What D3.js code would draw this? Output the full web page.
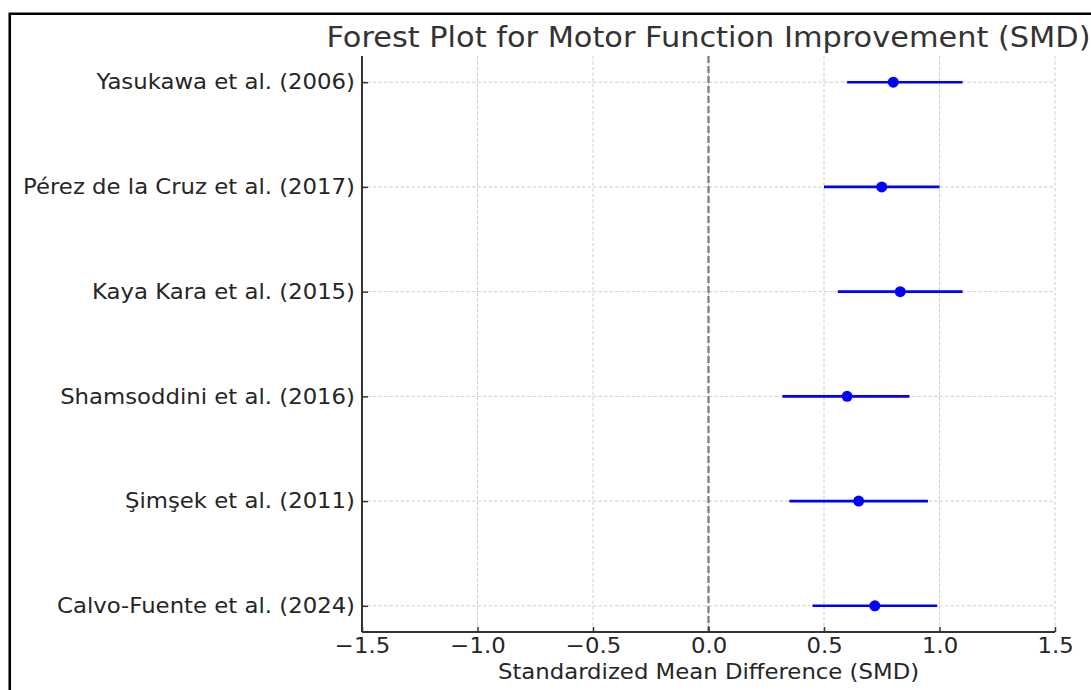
<!DOCTYPE html>
<html><head><meta charset="utf-8">
<script src="https://cdn.jsdelivr.net/npm/d3@7"></script>
<style>
html,body{margin:0;padding:0;background:#fff;}
svg{display:block;font-family:"DejaVu Sans",sans-serif;}
</style></head>
<body><svg id="c" width="1091" height="690"></svg>
<script>
const studies = ["Yasukawa et al. (2006)","Pérez de la Cruz et al. (2017)","Kaya Kara et al. (2015)","Shamsoddini et al. (2016)","Şimşek et al. (2011)","Calvo-Fuente et al. (2024)"];
const smd   = [0.80, 0.75, 0.83, 0.60, 0.65, 0.72];
const lower = [0.60, 0.50, 0.56, 0.32, 0.35, 0.45];
const upper = [1.10, 1.00, 1.10, 0.87, 0.95, 0.99];
const xTicks = [-1.5, -1.0, -0.5, 0.0, 0.5, 1.0, 1.5];
const titleText = "Forest Plot for Motor Function Improvement (SMD)";
const xLabel = "Standardized Mean Difference (SMD)";

const svg = d3.select("#c");
const L = 362, R = 1055, T = 56, B = 632;
const STRETCH = 1.085;
const x = d3.scaleLinear().domain([-1.5, 1.5]).range([L, R]);
const y = d3.scalePoint().domain(studies).range([T, B]).padding(0.25);

function stretch(sel){
  sel.each(function(){
    const w = this.getComputedTextLength();
    d3.select(this).attr("textLength", w*STRETCH).attr("lengthAdjust","spacingAndGlyphs");
  });
}

// outer frame (top + left)
svg.append("path").attr("d", `M9.75,690 V13.75 H1091`).attr("fill","none").attr("stroke","#000").attr("stroke-width",2.6);

const gridColor = "#cfcfcf";
svg.append("g").selectAll("line").data(xTicks).join("line")
  .attr("x1", d=>x(d)).attr("x2", d=>x(d)).attr("y1", T).attr("y2", B)
  .attr("stroke", gridColor).attr("stroke-width",1).attr("stroke-dasharray","3.5,2");
svg.append("g").selectAll("line").data(studies).join("line")
  .attr("x1", L).attr("x2", R).attr("y1", d=>y(d)).attr("y2", d=>y(d))
  .attr("stroke", gridColor).attr("stroke-width",1).attr("stroke-dasharray","3.5,2");

// zero line
svg.append("line").attr("x1", x(0)).attr("x2", x(0)).attr("y1", T).attr("y2", B)
  .attr("stroke","#808080").attr("stroke-width",2.3).attr("stroke-dasharray","7,3");

// error bars
const rows = studies.map((s,i)=>({s, m:smd[i], lo:lower[i], hi:upper[i]}));
svg.append("g").selectAll("line").data(rows).join("line")
  .attr("x1", d=>x(d.lo)).attr("x2", d=>x(d.hi)).attr("y1", d=>y(d.s)).attr("y2", d=>y(d.s))
  .attr("stroke","#0000ff").attr("stroke-width",2.6);
svg.append("g").selectAll("circle").data(rows).join("circle")
  .attr("cx", d=>x(d.m)).attr("cy", d=>y(d.s)).attr("r",5.5).attr("fill","#0000ff");

// axes
const axColor = "#333";
const gx = svg.append("g").attr("transform",`translate(0,${B})`)
  .call(d3.axisBottom(x).tickValues(xTicks).tickFormat(d3.format(".1f")).tickSize(-5).tickPadding(6).tickSizeOuter(0));
const gy = svg.append("g").attr("transform",`translate(${L},0)`)
  .call(d3.axisLeft(y).tickSize(-6).tickPadding(7).tickSizeOuter(0));
[gx, gy].forEach(g=>{
  g.select(".domain").attr("stroke", axColor).attr("stroke-width",2);
  g.selectAll(".tick line").attr("stroke", axColor).attr("stroke-width",1.5);
  g.selectAll(".tick text").attr("fill","#262626").attr("font-size",21).attr("font-family","DejaVu Sans").call(stretch);
});
gy.select(".domain").attr("d", `M0,${T}V${B}`);
gx.select(".domain").attr("d", `M${L},0H${R}`);

// title and label
svg.append("text").attr("x",(L+R)/2).attr("y",47).attr("text-anchor","middle")
  .attr("font-size",28).attr("fill","#333").text(titleText).call(stretch);
svg.append("text").attr("x",(L+R)/2).attr("y",679).attr("text-anchor","middle")
  .attr("font-size",21).attr("fill","#262626").text(xLabel).call(stretch);
</script></body></html>
